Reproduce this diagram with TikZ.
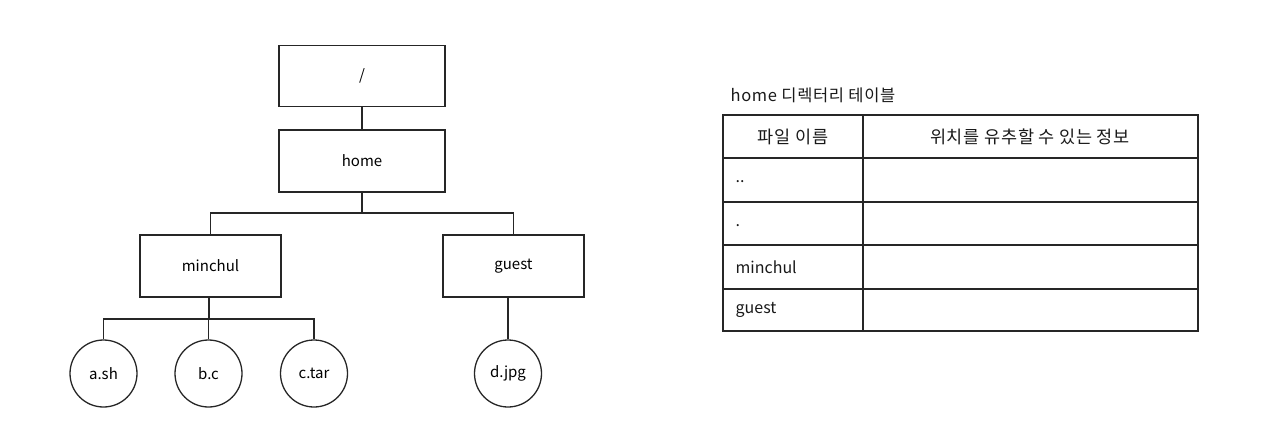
\documentclass[tikz,border=0pt]{standalone}
\usepackage{fontspec}
\setmainfont{Noto Sans CJK KR}
\newfontfamily\kfont[LetterSpace=4]{Noto Sans CJK KR}
\begin{document}
\begin{tikzpicture}[x=1pt,y=-1pt,
  line width=1.3pt,
  ink/.style={draw=black!85},
  dirbox/.style={ink, rectangle, inner sep=0pt, fill=white, font=\fontsize{15}{17}\selectfont},
  filecirc/.style={ink, circle, inner sep=0pt, minimum size=67pt, font=\fontsize{15}{17}\selectfont},
  conn/.style={ink, line width=1.2pt},
  cell/.style={inner sep=0pt, font=\fontsize{16}{18}\selectfont, text=black!90},
  kcell/.style={inner sep=0pt, font=\kfont\fontsize{17.5}{19}\selectfont, text=black!90}]
\useasboundingbox (0,0) rectangle (1264,439);
% tree
\node[dirbox, minimum width=166pt, minimum height=61pt] (root) at (362,76) {/};
\node[dirbox, minimum width=166pt, minimum height=62pt] (home) at (362,161) {home};
\node[dirbox, minimum width=141pt, minimum height=62pt] (minchul) at (210.5,266) {minchul};
\node[dirbox, minimum width=141pt, minimum height=62pt] (guest) at (513.5,266) {guest};
\node[filecirc] (ash) at (103.5,373.5) {a.sh};
\node[filecirc] (bc) at (208.5,373.5) {b.c};
\node[filecirc] (ctar) at (314,373.5) {c.tar};
\node[filecirc] (djpg) at (508,373.5) {d.jpg};
\coordinate (j1) at (362,213);
\coordinate (j2) at (209,319);
\draw[conn] (root.south) -- (home.north);
\draw[conn] (home.south) -- (j1);
\draw[conn] (minchul.north) |- (j1) -| (guest.north);
\draw[conn] (j2 |- minchul.south) -- (j2);
\draw[conn] (ash.north) |- (j2) -| (ctar.north);
\draw[conn] (bc.north) -- (bc.north |- j2);
\draw[conn] (djpg.north |- guest.south) -- (djpg.north);
% table
\node[kcell, anchor=base west, font=\kfont\fontsize{16.5}{18}\selectfont] (title) at (730,101) {home 디렉터리 테이블};
\draw[ink] (723,115) rectangle (1198,331);
\draw[ink] (863,115) -- (863,331);
\foreach \yy in {158,202,245,289} \draw[ink] (723,\yy) -- (1198,\yy);
\node[kcell] (h1) at (793,137) {파일 이름};
\node[kcell] (h2) at (1030,137) {위치를 유추할 수 있는 정보};
\node[cell, anchor=west] (r1) at (735,182) {..};
\node[cell, anchor=west] (r2) at (735,226) {.};
\node[cell, anchor=west] (r3) at (735,267) {minchul};
\node[cell, anchor=west] (r4) at (735,310) {guest};
\end{tikzpicture}
\end{document}
